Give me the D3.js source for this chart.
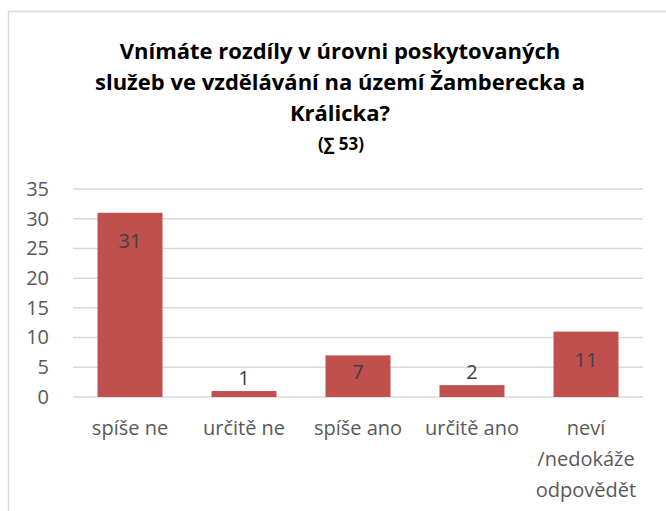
<!DOCTYPE html>
<html lang="cs">
<head>
    <meta charset="UTF-8">
    <script src="https://cdnjs.cloudflare.com/ajax/libs/d3/7.8.5/d3.min.js"></script>
    <style>
        body { margin: 0; background: #fff; }
        svg { display: block; font-family: "Open Sans", sans-serif; }
        .title { font-weight: bold; fill: #000; }
        .tick line, .domain { display: none; }
    </style>
</head>
<body>
<svg id="chart" width="666" height="511"></svg>
<script>
    const titleLines = ['Vnímáte rozdíly v úrovni poskytovaných', 'služeb ve vzdělávání na území Žamberecka a', 'Králicka?'];
    const subtitle = '(∑ 53)';
    const categories = ['spíše ne', 'určitě ne', 'spíše ano', 'určitě ano', 'neví /nedokáže odpovědět'];
    const values = [31, 1, 7, 2, 11];
    const yTicks = [0, 5, 10, 15, 20, 25, 30, 35];

    const svg = d3.select('#chart');
    const margin = {top: 189, left: 73, right: 23, bottom: 114};
    const W = 666, H = 511;

    // chart frame (cut off on the right and bottom like the screenshot)
    svg.append('rect')
        .attr('x', 8.5).attr('y', 11.5)
        .attr('width', 700).attr('height', 600)
        .attr('fill', 'none').attr('stroke', '#d9d9d9').attr('stroke-width', 1.5);

    const title = svg.append('g').attr('text-anchor', 'middle');
    titleLines.forEach((t, i) => {
        title.append('text').attr('class', 'title')
            .attr('x', 340).attr('y', 59 + i * 31)
            .style('font-size', '22px')
            .text(t);
    });
    title.append('text').attr('class', 'title')
        .attr('x', 341).attr('y', 150)
        .style('font-size', '17px')
        .text(subtitle);

    const x = d3.scaleBand()
        .domain(categories)
        .range([margin.left, W - margin.right])
        .paddingInner(0.43)
        .paddingOuter(0.215);

    const y = d3.scaleLinear()
        .domain([0, 35])
        .range([H - margin.bottom, margin.top]);

    // gridlines
    svg.append('g').selectAll('line')
        .data(yTicks).enter()
        .append('line')
        .attr('x1', margin.left).attr('x2', W - margin.right)
        .attr('y1', d => y(d)).attr('y2', d => y(d))
        .attr('stroke', '#d9d9d9').attr('stroke-width', 1.5);

    // y axis
    const yAxis = svg.append('g')
        .attr('transform', `translate(${margin.left - 16},0)`)
        .call(d3.axisLeft(y).tickValues(yTicks).tickSize(0).tickPadding(8));
    yAxis.selectAll('text')
        .style('font-family', '"Open Sans", sans-serif')
        .style('font-size', '20px')
        .attr('fill', '#595959');

    // bars
    svg.append('g').selectAll('rect')
        .data(values).enter()
        .append('rect')
        .attr('x', (d, i) => x(categories[i]))
        .attr('y', d => y(d))
        .attr('width', x.bandwidth())
        .attr('height', d => y(0) - y(d))
        .attr('fill', '#c0504d');

    // value labels
    svg.append('g').selectAll('text')
        .data(values).enter()
        .append('text')
        .attr('text-anchor', 'middle')
        .attr('x', (d, i) => x(categories[i]) + x.bandwidth() / 2)
        .attr('y', d => {
            const h = y(0) - y(d);
            if (h < 30) return y(d) - 6;
            return Math.min(y(d) + 35, y(0) - 18);
        })
        .style('font-size', '20px')
        .attr('fill', '#404040')
        .text(d => d);

    // x labels with wrapping
    const xl = svg.append('g');
    categories.forEach(c => {
        const t = xl.append('text')
            .attr('text-anchor', 'middle')
            .attr('x', x(c) + x.bandwidth() / 2)
            .attr('y', 435)
            .style('font-size', '20px')
            .attr('fill', '#595959');
        const words = c.split(' ');
        let line = [];
        let ts = t.append('tspan').attr('x', x(c) + x.bandwidth() / 2).attr('dy', 0);
        words.forEach(w => {
            line.push(w);
            ts.text(line.join(' '));
            if (ts.node().getComputedTextLength() > x.step() - 4 && line.length > 1) {
                line.pop();
                ts.text(line.join(' '));
                line = [w];
                ts = t.append('tspan').attr('x', x(c) + x.bandwidth() / 2).attr('dy', 31).text(w);
            }
        });
    });
</script>
</body>
</html>
